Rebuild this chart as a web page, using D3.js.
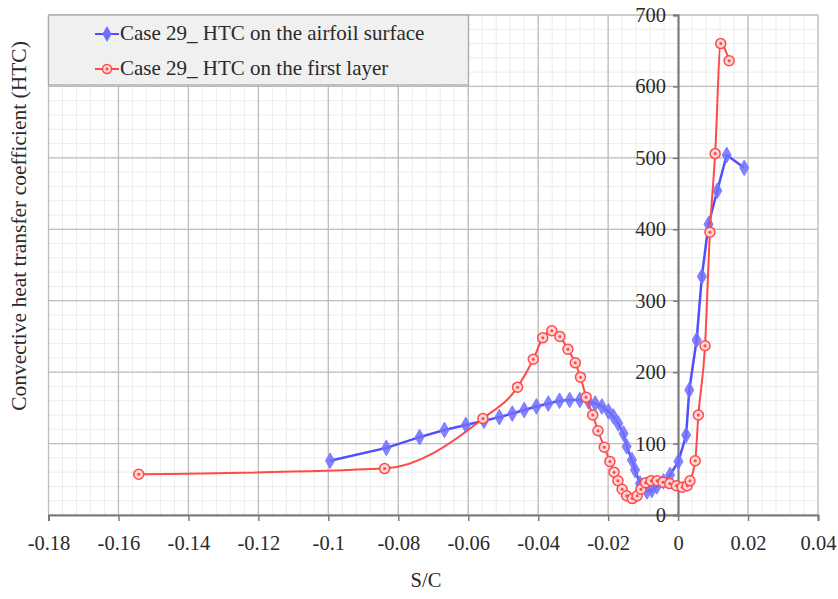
<!DOCTYPE html>
<html>
<head>
<meta charset="utf-8">
<script src="https://cdn.jsdelivr.net/npm/d3@7"></script>
<style>
  html, body { margin: 0; padding: 0; background: #fff; }
  svg { display: block; }
</style>
</head>
<body>
<svg id="chart"></svg>
<script>
// series labels
var seriesNames = ["Case 29_ HTC on the airfoil surface", "Case 29_ HTC on the first layer"];

// blue: HTC on the airfoil surface (S/C, HTC)
var surfaceX = [-0.0995, -0.0834, -0.0739, -0.0668, -0.0607, -0.0555, -0.0511, -0.0474, -0.0440,
  -0.0405, -0.0371, -0.0339, -0.0310, -0.0281, -0.0256, -0.0237, -0.0218, -0.0199, -0.0185,
  -0.0171, -0.0156, -0.0147, -0.0132, -0.0123, -0.0109, -0.0089, -0.0075, -0.0061, -0.0042,
  -0.0023, 0.0001, 0.0023, 0.0032, 0.0053, 0.0068, 0.0087, 0.0112, 0.0139, 0.0189];
var surfaceY = [76, 94, 109, 119, 126, 132, 137, 142, 147,
  152, 156, 160, 161, 161, 159, 156, 152, 145, 138,
  128, 114, 96, 77, 63, 44, 33, 35, 40, 47,
  56, 75, 112, 175, 245, 334, 407, 454, 504, 486];

// red: HTC on the first layer
var layerX = [-0.1542, -0.0839, -0.0558, -0.0459, -0.0414, -0.0387, -0.0361, -0.0338, -0.0315,
  -0.0294, -0.0279, -0.0263, -0.0244, -0.0229, -0.0211, -0.0195, -0.0183, -0.0172, -0.0160,
  -0.0147, -0.0131, -0.0117, -0.0106, -0.0093, -0.0077, -0.0060, -0.0043, -0.0024, -0.0005,
  0.0012, 0.0026, 0.0034, 0.0049, 0.0058, 0.0077, 0.0091, 0.0106, 0.0122, 0.0146];
var layerY = [57, 65, 135, 179, 218, 248, 258, 250, 232,
  213, 193, 165, 140, 118, 95, 75, 60, 48, 36,
  27, 23, 27, 36, 45, 48, 48, 46, 44, 41,
  39, 41, 48, 76, 140, 237, 396, 506, 660, 636];

// axes
var xTickValues = [-0.18, -0.16, -0.14, -0.12, -0.1, -0.08, -0.06, -0.04, -0.02, 0, 0.02, 0.04];
var yTickValues = [0, 100, 200, 300, 400, 500, 600, 700];
var xTitle = "S/C";
var yTitle = "Convective heat transfer coefficient (HTC)";

var width = 838, height = 599;
var font = "'Liberation Serif', 'Times New Roman', serif";
var textColor = "#2a2a2a";

var svg = d3.select("#chart").attr("width", width).attr("height", height);

var x = d3.scaleLinear().domain([-0.18, 0.04]).range([48.5, 818]);
var y = d3.scaleLinear().domain([0, 700]).range([515, 15]);

// minor grid
var grid = svg.append("g");
grid.selectAll(".vminor")
  .data(d3.range(-0.18, 0.0401, 0.004))
  .enter().append("line")
  .attr("x1", d => x(d)).attr("x2", d => x(d))
  .attr("y1", y(700)).attr("y2", y(0))
  .style("stroke", "#ececec").style("stroke-width", 1);
grid.selectAll(".hminor")
  .data(d3.range(0, 701, 20))
  .enter().append("line")
  .attr("x1", x(-0.18)).attr("x2", x(0.04))
  .attr("y1", d => y(d)).attr("y2", d => y(d))
  .style("stroke", "#ececec").style("stroke-width", 1);

// major grid
grid.selectAll(".vmajor")
  .data(xTickValues)
  .enter().append("line")
  .attr("x1", d => x(d)).attr("x2", d => x(d))
  .attr("y1", y(700)).attr("y2", y(0))
  .style("stroke", "#bdbdbd").style("stroke-width", 1.3);
grid.selectAll(".hmajor")
  .data(yTickValues)
  .enter().append("line")
  .attr("x1", x(-0.18)).attr("x2", x(0.04))
  .attr("y1", d => y(d)).attr("y2", d => y(d))
  .style("stroke", "#bdbdbd").style("stroke-width", 1.3);

// plain hyphen for negatives, like the original
function fmt(d) {
  return String(+d.toFixed(2));
}

// x axis at the bottom
var xAxis = svg.append("g")
  .attr("transform", "translate(0," + y(0) + ")")
  .call(d3.axisBottom(x).tickValues(xTickValues).tickSize(6).tickPadding(14).tickFormat(fmt));
xAxis.select(".domain").style("stroke", "#7a7a7a").style("stroke-width", 2);
xAxis.selectAll(".tick line").style("stroke", "#7a7a7a").style("stroke-width", 1.5);
xAxis.selectAll("text")
  .style("font-family", font).style("font-size", "20.5px").style("fill", textColor);

// y axis sits at S/C = 0
var yAxis = svg.append("g")
  .attr("transform", "translate(" + x(0) + ",0)")
  .call(d3.axisLeft(y).tickValues(yTickValues).tickSize(5).tickPadding(7));
yAxis.select(".domain").style("stroke", "#7a7a7a").style("stroke-width", 2);
yAxis.selectAll(".tick line").style("stroke", "#7a7a7a").style("stroke-width", 1.5);
yAxis.selectAll("text")
  .style("font-family", font).style("font-size", "20.5px").style("fill", textColor);

// titles
svg.append("text")
  .attr("x", 426).attr("y", 587)
  .attr("text-anchor", "middle")
  .style("font-family", font).style("font-size", "20.5px").style("fill", textColor)
  .text(xTitle);
svg.append("text")
  .attr("transform", "translate(26,226) rotate(-90)")
  .attr("text-anchor", "middle")
  .style("font-family", font).style("font-size", "21.5px").style("fill", textColor)
  .text(yTitle);

// lines
var surface = surfaceX.map((v, i) => [v, surfaceY[i]]);
var layer = layerX.map((v, i) => [v, layerY[i]]);

var lineStraight = d3.line().x(d => x(d[0])).y(d => y(d[1]));
var lineSmooth = d3.line().x(d => x(d[0])).y(d => y(d[1])).curve(d3.curveMonotoneX);

var blue = "#4f4fff", red = "#ff4a4a";

svg.append("path").datum(surface)
  .attr("d", lineStraight)
  .style("fill", "none").style("stroke", blue).style("stroke-width", 2.5);

svg.selectAll(".diamond")
  .data(surface)
  .enter().append("path")
  .attr("d", d3.symbol(d3.symbolDiamond, 70))
  .attr("transform", d => "translate(" + x(d[0]) + "," + y(d[1]) + ")")
  .style("fill", "#6f6fff").style("fill-opacity", 0.85)
  .style("stroke", "#7a7aff").style("stroke-width", 1);

svg.append("path").datum(layer)
  .attr("d", lineSmooth)
  .style("fill", "none").style("stroke", red).style("stroke-width", 2);

var rings = svg.selectAll(".ring")
  .data(layer)
  .enter().append("g")
  .attr("transform", d => "translate(" + x(d[0]) + "," + y(d[1]) + ")");
rings.append("circle").attr("r", 5)
  .style("fill", "#ffd6d6").style("stroke", red).style("stroke-width", 1.5);
rings.append("circle").attr("r", 1.5).style("fill", red);

// legend
var legend = svg.append("g");
legend.append("rect")
  .attr("x", 48.5).attr("y", 15).attr("width", 420).attr("height", 70)
  .style("fill", "#f0f0f0").style("stroke", "#a8a8a8").style("stroke-width", 1.3);

var items = legend.selectAll(".item")
  .data(seriesNames)
  .enter().append("g")
  .attr("transform", (d, i) => "translate(95," + (34 + i * 35) + ")");
items.append("line")
  .attr("x1", 0).attr("x2", 24)
  .style("stroke", (d, i) => i == 0 ? blue : red).style("stroke-width", 2);
items.each(function(d, i) {
  var g = d3.select(this);
  if (i == 0) {
    g.append("path").attr("d", d3.symbol(d3.symbolDiamond, 60))
      .attr("transform", "translate(12,0)")
      .style("fill", "#6f6fff").style("stroke", "#7a7aff");
  } else {
    g.append("circle").attr("cx", 12).attr("r", 4.5)
      .style("fill", "#ffd6d6").style("stroke", red).style("stroke-width", 1.5);
    g.append("circle").attr("cx", 12).attr("r", 1.5).style("fill", red);
  }
});
items.append("text")
  .attr("x", 25).attr("y", 6)
  .style("font-family", font).style("font-size", "21px").style("fill", textColor)
  .text(d => d);
</script>
</body>
</html>
